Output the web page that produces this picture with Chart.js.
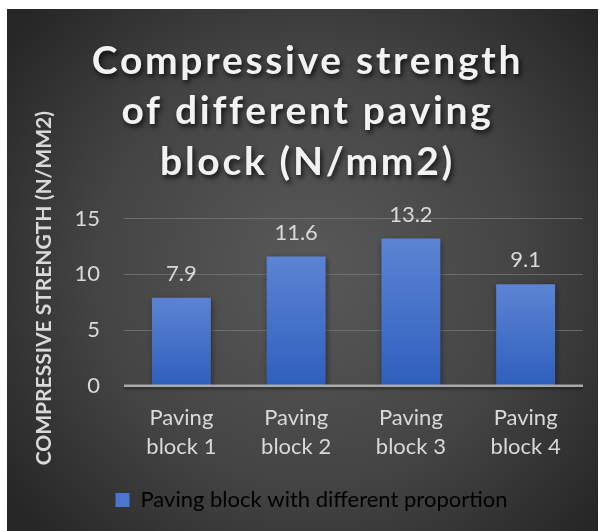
<!DOCTYPE html>
<html>
<head>
<meta charset="utf-8">
<style>
  html, body { margin: 0; padding: 0; background: #ffffff; }
  #wrap { width: 603px; height: 531px; }
</style>
<script src="https://cdn.jsdelivr.net/npm/chart.js@4/dist/chart.umd.min.js"></script>
</head>
<body>
<div id="wrap"><canvas id="chart" width="603" height="531"></canvas></div>
<script>
// Chart content
const categories = [['Paving', 'block 1'], ['Paving', 'block 2'], ['Paving', 'block 3'], ['Paving', 'block 4']];
const strengthValues = [7.9, 11.6, 13.2, 9.1];
const seriesName = 'Paving block with different proportion';
const titleLines = ['Compressive strength', 'of different paving', 'block (N/mm2)'];
const yAxisTitle = 'COMPRESSIVE STRENGTH (N/MM2)';
const yTicks = [0, 5, 10, 15];

const textColor = '#d9d9d9';
const fontFamily = 'Lato, "Open Sans", sans-serif';

// Dark radial panel behind the whole chart
const panelPlugin = {
  id: 'panel',
  beforeDraw(chart) {
    const ctx = chart.ctx;
    ctx.save();
    ctx.fillStyle = '#ffffff';
    ctx.fillRect(0, 0, chart.width, chart.height);
    const x0 = 7, y0 = 9, w = chart.width - 12, h = chart.height - 9;
    const g = ctx.createRadialGradient(310, 270, 10, 310, 270, 380);
    g.addColorStop(0, '#585858');
    g.addColorStop(0.55, '#444444');
    g.addColorStop(1, '#262626');
    ctx.fillStyle = g;
    ctx.fillRect(x0, y0, w, h);
    ctx.restore();
  }
};

// Drop shadow and letter spacing for the chart title; y-axis title nudged up
const titleShadowPlugin = {
  id: 'titleShadow',
  beforeDraw(chart) {
    const ctx = chart.ctx;
    const tb = chart.titleBlock;
    if (tb && !tb._shadowWrapped) {
      const orig = tb.draw.bind(tb);
      tb.draw = function () {
        ctx.save();
        ctx.translate(6, 0);
        ctx.shadowColor = 'rgba(0,0,0,0.75)';
        ctx.shadowBlur = 5;
        ctx.shadowOffsetX = 2;
        ctx.shadowOffsetY = 3;
        ctx.letterSpacing = '2.7px';
        orig();
        ctx.restore();
      };
      tb._shadowWrapped = true;
    }
    const ys = chart.scales.y;
    if (ys && !ys._titleWrapped) {
      const origTitle = ys.drawTitle.bind(ys);
      ys.drawTitle = function () {
        ctx.save();
        ctx.translate(0, -14);
        origTitle();
        ctx.restore();
      };
      ys._titleWrapped = true;
    }
  }
};

// Shadow under the bars, baseline drawn over them, value labels on top
const barDecorPlugin = {
  id: 'barDecor',
  beforeDatasetsDraw(chart) {
    const ctx = chart.ctx;
    ctx.save();
    ctx.shadowColor = 'rgba(0,0,0,0.45)';
    ctx.shadowBlur = 6;
    ctx.shadowOffsetX = 1;
    ctx.shadowOffsetY = 2;
  },
  afterDatasetsDraw(chart) {
    const ctx = chart.ctx;
    ctx.restore();
    const area = chart.chartArea;
    const y0 = chart.scales.y.getPixelForValue(0);
    ctx.save();
    ctx.shadowColor = 'rgba(0,0,0,0.5)';
    ctx.shadowBlur = 3;
    ctx.shadowOffsetY = 2;
    ctx.strokeStyle = 'rgba(190,190,190,0.85)';
    ctx.lineWidth = 2.5;
    ctx.beginPath();
    ctx.moveTo(area.left, y0);
    ctx.lineTo(area.right, y0);
    ctx.stroke();
    ctx.restore();

    ctx.save();
    ctx.fillStyle = textColor;
    ctx.font = '22px ' + fontFamily;
    ctx.textAlign = 'center';
    ctx.textBaseline = 'middle';
    const meta = chart.getDatasetMeta(0);
    meta.data.forEach((bar, i) => {
      ctx.fillText(String(strengthValues[i]), bar.x, bar.y - 24);
    });
    ctx.restore();
  },
  afterLayout(chart) {
    const lg = chart.legend;
    if (lg) { lg.left += 10; lg.right += 10; lg.top += 4; lg.bottom += 4; }
  }
};

function barGradient(c) {
  const chart = c.chart;
  const ys = chart.scales && chart.scales.y;
  if (!chart.chartArea || !ys || c.raw === undefined) return '#4a76cf';
  const top = ys.getPixelForValue(c.raw);
  const bottom = ys.getPixelForValue(0);
  const g = chart.ctx.createLinearGradient(0, top, 0, bottom);
  g.addColorStop(0, '#5c84d4');
  g.addColorStop(1, '#2f5fbd');
  return g;
}

new Chart(document.getElementById('chart'), {
  type: 'bar',
  data: {
    labels: categories,
    datasets: [{
      label: seriesName,
      data: strengthValues,
      backgroundColor: barGradient,
      borderWidth: 0,
      categoryPercentage: 1,
      barPercentage: 0.514
    }]
  },
  plugins: [panelPlugin, titleShadowPlugin, barDecorPlugin],
  options: {
    responsive: false,
    animation: false,
    layout: { padding: { left: 20, right: 20, top: 10, bottom: 14 } },
    plugins: {
      title: {
        display: true,
        text: titleLines,
        color: '#f2f2f2',
        font: { family: fontFamily, size: 39, weight: 'bold', lineHeight: 1.295 },
        padding: { top: 26, bottom: 31 }
      },
      legend: {
        display: true,
        position: 'bottom',
        labels: {
          color: textColor,
          font: { family: fontFamily, size: 22 },
          boxWidth: 14,
          boxHeight: 14,
          padding: 6,
          generateLabels(chart) {
            return [{
              text: seriesName,
              fillStyle: '#4a76cf',
              strokeStyle: '#4a76cf',
              lineWidth: 0,
              hidden: false,
              datasetIndex: 0
            }];
          }
        }
      },
      tooltip: { enabled: false }
    },
    scales: {
      x: {
        grid: { display: false, drawTicks: false },
        border: { display: false },
        ticks: {
          color: textColor,
          font: { family: fontFamily, size: 22, lineHeight: 1.3 },
          padding: 18,
          maxRotation: 0
        }
      },
      y: {
        min: 0,
        max: 15,
        afterBuildTicks(scale) {
          scale.ticks = yTicks.map(v => ({ value: v }));
        },
        afterFit(scale) { scale.width = 104; },
        grid: {
          drawTicks: false,
          color: (c) => c.tick && c.tick.value === 0 ? 'rgba(0,0,0,0)' : 'rgba(120,120,120,0.75)',
          lineWidth: 1
        },
        border: { display: false },
        ticks: {
          color: textColor,
          font: { family: fontFamily, size: 22 },
          padding: 24
        },
        title: {
          display: true,
          text: yAxisTitle,
          color: textColor,
          font: { family: fontFamily, size: 21, weight: 'bold' },
          padding: { top: 12, bottom: 0 }
        }
      }
    }
  }
});
</script>
</body>
</html>
